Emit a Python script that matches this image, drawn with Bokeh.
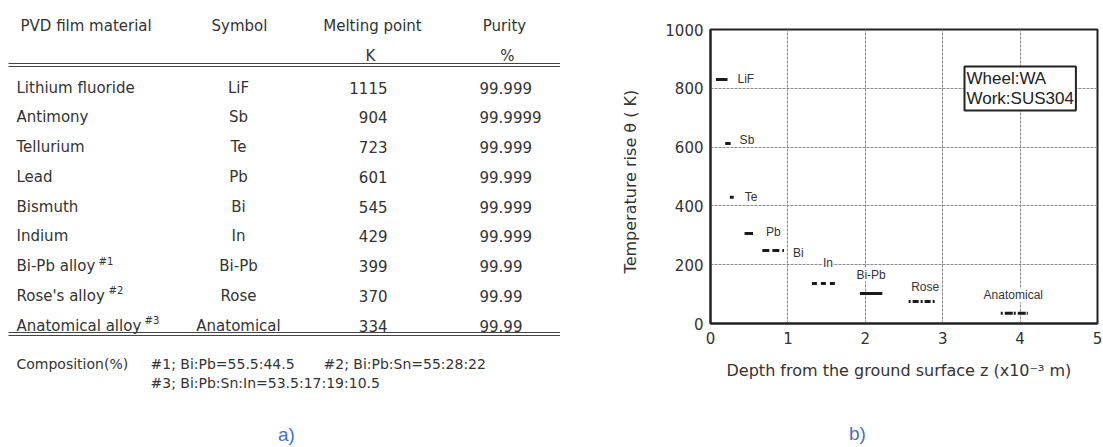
from bokeh.plotting import figure
from bokeh.layouts import row, column
from bokeh.models import Range1d, FixedTicker, Label
from bokeh.core.properties import value
from bokeh.embed import file_html
from bokeh.resources import INLINE

# ---------------- data ----------------
materials = ["Lithium fluoride", "Antimony", "Tellurium", "Lead", "Bismuth",
             "Indium", "Bi-Pb alloy", "Rose's alloy", "Anatomical alloy"]
footnotes = ["", "", "", "", "", "", "#1", "#2", "#3"]
symbols = ["LiF", "Sb", "Te", "Pb", "Bi", "In", "Bi-Pb", "Rose", "Anatomical"]
melting_point_K = [1115, 904, 723, 601, 545, 429, 399, 370, 334]
purity_pct = ["99.999", "99.9999", "99.999", "99.999", "99.999", "99.999",
              "99.99", "99.99", "99.99"]
header = ["PVD film material", "Symbol", "Melting point", "Purity"]
units = ["", "", "K", "%"]
composition_title = "Composition(%)"
composition = ["#1; Bi:Pb=55.5:44.5", "#2; Bi:Pb:Sn=55:28:22",
               "#3; Bi:Pb:Sn:In=53.5:17:19:10.5"]

# chart (b): temperature rise vs depth band for each film
temp_rise_K = [830, 612, 429, 306, 248, 136, 102, 75, 35]
depth_start = [0.07, 0.19, 0.25, 0.44, 0.67, 1.31, 1.93, 2.56, 3.75]
depth_end = [0.22, 0.26, 0.30, 0.55, 0.95, 1.62, 2.22, 2.91, 4.10]
x_ticks = [0, 1, 2, 3, 4, 5]
y_ticks = [0, 200, 400, 600, 800, 1000]
box_text = "Wheel:WA\nWork:SUS304"
panel_tags = ["a)", "b)"]

# ---------------- styles / layout ----------------
INK = "#333333"
BLUE = "#4472C4"
FONT = value("DejaVu Sans")
seg_dash = ["solid", "solid", "solid", "solid", "7 3", "5 4", "solid", "2 2 6 2", "2 2 8 1"]
lab_mode = ["left"] * 5 + ["center"] * 4
lab_dx = [10, 9, 11, 13, 9, 4, 0, 3, -1]
lab_dy = [0, -4, 0, -2, 2, -21, -19, -14, -18]
sup_x = {6: 98, 7: 108, 8: 144}

# ---------------- table (a) ----------------
t = figure(width=560, height=447, x_range=Range1d(0, 560), y_range=Range1d(447, 0),
           output_backend="svg", toolbar_location=None, min_border=0,
           x_axis_location=None, y_axis_location=None)
t.frame_align = False
t.grid.visible = False
t.outline_line_color = None

ROW0, DY = 87, 29.75
row_y = [ROW0 + i * DY for i in range(len(materials))]
tk = dict(text_font=FONT, text_font_size="15px", text_color=INK, text_baseline="middle")

# headers
t.text(x=[20], y=[25], text=[header[0]], text_align="left", **tk)
t.text(x=[239, 372, 504], y=[25, 25, 25], text=header[1:], text_align="center", **tk)
t.text(x=[370, 507], y=[55, 55], text=units[2:], text_align="center", **tk)
# rules
t.segment(x0=[8, 8], y0=[63, 66], x1=[560, 560], y1=[63, 66], line_color="#444", line_width=1.2)
t.segment(x0=[8, 8], y0=[332, 335], x1=[560, 560], y1=[332, 335], line_color="#444", line_width=1.2)
# body
t.text(x=[16] * len(materials), y=row_y, text=materials, text_align="left", **tk)
t.text(x=[238] * len(symbols), y=row_y, text=symbols, text_align="center", **tk)
t.text(x=[387] * len(melting_point_K), y=row_y, text=[str(v) for v in melting_point_K],
       text_align="right", **tk)
t.text(x=[479] * len(purity_pct), y=row_y, text=purity_pct, text_align="left", **tk)
for i, fn in enumerate(footnotes):
    if fn:
        t.text(x=[sup_x[i]], y=[row_y[i] - 5], text=[fn], text_align="left",
               text_font=FONT, text_font_size="10px", text_color=INK, text_baseline="middle")
# composition note
ck = dict(text_font=FONT, text_font_size="14px", text_color=INK, text_baseline="middle",
          text_align="left")
t.text(x=[16], y=[363], text=[composition_title], **ck)
t.text(x=[150, 323, 150], y=[363, 363, 382], text=composition, **ck)
tag = dict(text_align="center", text_baseline="middle", text_font=value("Liberation Sans"),
           text_font_size="19px", text_color=BLUE)
t.text(x=[286], y=[434], text=[panel_tags[0]], **tag)

# ---------------- chart (b) ----------------
p = figure(width=543, height=415, x_range=Range1d(0, 5), y_range=Range1d(0, 1000),
           output_backend="svg", toolbar_location=None,
           min_border_left=150, min_border_right=6, min_border_top=29, min_border_bottom=92)
p.frame_align = False
p.outline_line_color = "#222"
p.outline_line_width = 2
for ax in (p.xaxis, p.yaxis):
    ax.major_tick_out = 0
    ax.major_tick_in = 0
    ax.minor_tick_out = 0
    ax.minor_tick_in = 0
    ax.axis_line_color = "#222"
    ax.axis_line_width = 2
    ax.major_label_text_font = "DejaVu Sans"
    ax.major_label_text_font_size = "15px"
    ax.major_label_text_color = INK
    ax.axis_label_text_font = "DejaVu Sans"
    ax.axis_label_text_font_size = "16px"
    ax.axis_label_text_font_style = "normal"
    ax.axis_label_text_color = INK
p.xaxis.ticker = FixedTicker(ticks=x_ticks)
p.yaxis.ticker = FixedTicker(ticks=y_ticks)
p.xaxis.major_label_standoff = 8
p.yaxis.major_label_standoff = 7
p.xaxis.axis_label = "Depth from the ground surface z  (x10\u207b\u00b3  m)"
p.yaxis.axis_label = "Temperature rise  \u03b8  ( K)"
p.xaxis.axis_label_standoff = 14
p.yaxis.axis_label_standoff = 22
p.xgrid.ticker = FixedTicker(ticks=x_ticks)
p.ygrid.ticker = FixedTicker(ticks=y_ticks)
p.grid.grid_line_color = "#8c8c8c"
p.grid.grid_line_width = 1
p.grid.grid_line_dash = "3 1"

# labels first (white background cuts the grid), then segments
for i, s in enumerate(symbols):
    if lab_mode[i] == "left":
        lx, align = depth_end[i], "left"
    else:
        lx, align = (depth_start[i] + depth_end[i]) / 2, "center"
    p.text(x=[lx], y=[temp_rise_K[i]], text=[s], x_offset=lab_dx[i], y_offset=lab_dy[i],
           text_align=align, text_baseline="middle", text_font=value("Liberation Sans"),
           text_font_size="12px", text_color=INK, background_fill_color="white")
for i in range(len(symbols)):
    p.segment(x0=[depth_start[i]], y0=[temp_rise_K[i]], x1=[depth_end[i]], y1=[temp_rise_K[i]],
              line_color="#1a1a1a", line_width=3, line_dash=seg_dash[i])

p.add_layout(Label(x=254, y=257, x_units="screen", y_units="screen", text=box_text,
                   text_font="Liberation Sans", text_font_size="17px", text_color="#222",
                   text_align="left", text_baseline="top", text_line_height=1.1,
                   background_fill_color="white",
                   border_line_color="#222", border_line_width=2, padding=2))

# caption strip under chart (b)
s = figure(width=543, height=32, x_range=Range1d(0, 543), y_range=Range1d(32, 0),
           output_backend="svg", toolbar_location=None, min_border=0,
           x_axis_location=None, y_axis_location=None)
s.frame_align = False
s.grid.visible = False
s.outline_line_color = None
s.text(x=[297], y=[18], text=[panel_tags[1]], **tag)

layout = row(t, column(p, s))
open("out.html", "w").write(file_html(layout, INLINE))
